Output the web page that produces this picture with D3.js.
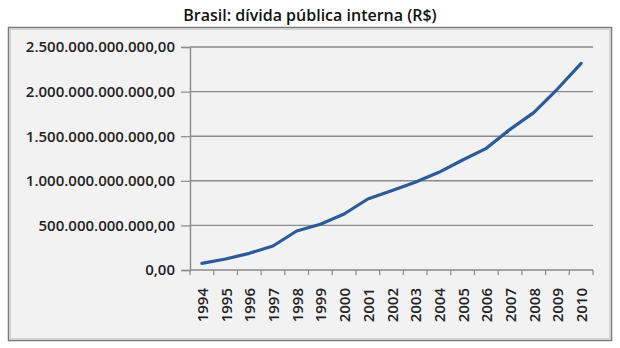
<!DOCTYPE html>
<html>
<head>
<meta charset="utf-8">
<script src="https://cdn.jsdelivr.net/npm/d3@7"></script>
<style>
  html, body { margin: 0; padding: 0; background: #ffffff; }
  svg { display: block; }
</style>
</head>
<body>
<svg id="chart" width="620" height="348"></svg>
<script>
// Brazilian domestic public debt, R$
const years = ["1994","1995","1996","1997","1998","1999","2000","2001","2002",
               "2003","2004","2005","2006","2007","2008","2009","2010"];
const debt = [75e9, 123e9, 187e9, 269e9, 437e9, 512e9, 628e9, 796e9, 889e9,
              983e9, 1095e9, 1233e9, 1364e9, 1577e9, 1764e9, 2029e9, 2317e9];
const yTicks = [0, 500e9, 1000e9, 1500e9, 2000e9, 2500e9];
const title = "Brasil: dívida pública interna (R$)";

const svg = d3.select("#chart");
const font = "'Open Sans', 'DejaVu Sans', sans-serif";

// outer frame
svg.append("rect").attr("x", 8.5).attr("y", 27.5).attr("width", 603).attr("height", 313)
  .attr("fill", "#f2f2f2").attr("stroke", "#7a7a7a").attr("stroke-width", 1.5);
svg.append("rect").attr("x", 10.5).attr("y", 29.5).attr("width", 599).attr("height", 309)
  .attr("fill", "none").attr("stroke", "#d0d0d0").attr("stroke-width", 1);

svg.append("text").attr("x", 310).attr("y", 21).attr("text-anchor", "middle")
  .attr("font-family", font).attr("font-size", 16).attr("font-weight", 600)
  .attr("fill", "#111").text(title);

const x = d3.scaleBand().domain(years).range([190, 593]);
const y = d3.scaleLinear().domain([0, 2500e9]).range([270, 47]);

const fmt = v => d3.formatLocale({decimal: ",", thousands: ".", grouping: [3], currency: ["R$", ""]})
  .format(",.2f")(v);

// horizontal gridlines
svg.append("g").selectAll("line").data(yTicks.slice(1)).join("line")
  .attr("x1", 190).attr("x2", 593)
  .attr("y1", d => y(d)).attr("y2", d => y(d))
  .attr("stroke", "#8a8a8a").attr("stroke-width", 1.4);

// y axis
const yAxis = svg.append("g").attr("transform", "translate(190,0)")
  .call(d3.axisLeft(y).tickValues(yTicks).tickFormat(fmt).tickSizeOuter(0).tickSize(9).tickPadding(6));
yAxis.select(".domain").attr("stroke", "#8a8a8a").attr("stroke-width", 1.4);
yAxis.selectAll(".tick line").attr("stroke", "#8a8a8a").attr("stroke-width", 1.2);
yAxis.selectAll("text").attr("font-family", font).attr("font-size", 15)
  .attr("font-weight", 600).attr("fill", "#222");

// x axis with ticks at category boundaries
const xAxis = svg.append("g").attr("transform", "translate(0,270)");
xAxis.append("line").attr("x1", 190).attr("x2", 593).attr("y1", 0).attr("y2", 0)
  .attr("stroke", "#8a8a8a").attr("stroke-width", 1.4);
const bounds = years.map(d => x(d)).concat([x.range()[1]]);
xAxis.selectAll("line.t").data(bounds).join("line").attr("class", "t")
  .attr("x1", d => d).attr("x2", d => d).attr("y1", 0).attr("y2", 5)
  .attr("stroke", "#8a8a8a").attr("stroke-width", 1.2);
xAxis.selectAll("text").data(years).join("text")
  .attr("transform", d => `translate(${x(d) + x.bandwidth() / 2 + 6},18) rotate(-90)`)
  .attr("text-anchor", "end")
  .attr("font-family", font).attr("font-size", 15).attr("font-weight", 600)
  .attr("fill", "#222").text(d => d);

// debt line
const line = d3.line()
  .x((d, i) => x(years[i]) + x.bandwidth() / 2)
  .y(d => y(d));
svg.append("path").datum(debt).attr("d", line)
  .attr("fill", "none").attr("stroke", "#2c5b9a").attr("stroke-width", 3.2)
  .attr("stroke-linejoin", "round").attr("stroke-linecap", "round");
</script>
</body>
</html>
